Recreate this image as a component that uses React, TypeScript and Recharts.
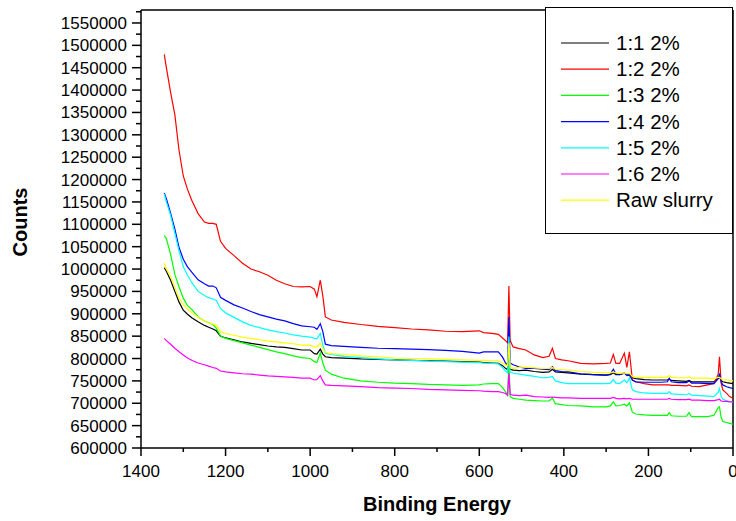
import React from 'react';
import { LineChart, Line, XAxis, YAxis, Legend, ReferenceLine } from 'recharts';

// binding energy (eV) sampled along the survey spectra
const energy = [
  1345, 1340, 1330, 1320, 1310, 1300, 1290, 1280, 1265, 1250,
  1240, 1230, 1222, 1212, 1200, 1180, 1160, 1140, 1120, 1100,
  1080, 1060, 1040, 1020, 1000, 990, 984, 976, 970, 964,
  950, 920, 880, 840, 800, 760, 720, 680, 640, 600,
  590, 570, 555, 545, 538, 533, 530, 527, 520, 505,
  490, 470, 450, 435, 427, 420, 405, 390, 360, 330,
  300, 290, 283, 277, 268, 257, 251, 245, 238, 230,
  210, 190, 170, 155, 151, 146, 130, 110, 104, 98,
  80, 60, 45, 35, 32, 28, 24, 15, 8, 0,
];

const ratio11 = [
  1003000, 995000, 975000, 950000, 926000, 908000, 899000, 891000, 882000, 874000,
  870000, 866000, 862000, 850000, 846000, 842000, 837000, 834000, 831000, 828000,
  826000, 825000, 822000, 819000, 819000, 811000, 810000, 821000, 810000, 804000,
  802000, 801000, 799000, 798000, 797000, 796000, 795000, 794000, 793000, 792000,
  791000, 790000, 789000, 784000, 778000, 775000, 812000, 776000, 774000, 773000,
  774000, 771000, 769000, 770000, 776000, 770000, 769000, 768000, 765000, 764000,
  763000, 764000, 768000, 764000, 764000, 767000, 764000, 765000, 757000, 755000,
  753000, 752000, 752000, 752000, 754000, 751000, 750000, 749000, 751000, 748000,
  748000, 748000, 748000, 756000, 759000, 750000, 748000, 746000, 745000, 744000,
];

const ratio12 = [
  1480000, 1450000, 1395000, 1345000, 1265000, 1208000, 1178000, 1154000, 1124000, 1105000,
  1102000, 1102000, 1100000, 1062000, 1046000, 1030000, 1013000, 1000000, 994000, 986000,
  975000, 967000, 961000, 960000, 961000, 955000, 938000, 975000, 940000, 893000,
  886000, 881000, 876000, 872000, 869000, 866000, 864000, 861000, 860000, 862000,
  858000, 856000, 854000, 846000, 840000, 835000, 962000, 840000, 826000, 822000,
  819000, 808000, 802000, 805000, 823000, 800000, 797000, 795000, 789000, 788000,
  789000, 790000, 809000, 789000, 789000, 812000, 780000, 815000, 752000, 748000,
  744000, 741000, 741000, 741000, 741000, 740000, 740000, 739000, 741000, 738000,
  737000, 741000, 744000, 765000, 804000, 745000, 730000, 722000, 715000, 711000,
];

const ratio13 = [
  1075000, 1068000, 1033000, 988000, 960000, 935000, 918000, 910000, 893000, 884000,
  880000, 876000, 868000, 850000, 845000, 840000, 835000, 830000, 825000, 820000,
  815000, 811000, 806000, 802000, 800000, 793000, 791000, 812000, 790000, 774000,
  765000, 756000, 750000, 747000, 745000, 744000, 742000, 741000, 740000, 741000,
  743000, 744000, 744000, 735000, 726000, 718000, 790000, 715000, 711000, 709000,
  707000, 706000, 705000, 705000, 712000, 699000, 697000, 695000, 694000, 692000,
  692000, 694000, 703000, 694000, 695000, 698000, 694000, 701000, 680000, 676000,
  674000, 673000, 673000, 673000, 679000, 672000, 671000, 671000, 679000, 670000,
  670000, 670000, 673000, 690000, 692000, 668000, 659000, 657000, 655000, 653000,
];

const ratio14 = [
  1170000, 1157000, 1125000, 1090000, 1048000, 1022000, 1005000, 993000, 976000, 967000,
  962000, 962000, 958000, 937000, 930000, 920000, 913000, 905000, 898000, 893000,
  888000, 884000, 878000, 873000, 871000, 870000, 865000, 878000, 860000, 832000,
  829000, 827000, 825000, 823000, 822000, 821000, 820000, 818000, 816000, 812000,
  815000, 815000, 815000, 803000, 790000, 785000, 893000, 790000, 786000, 781000,
  778000, 778000, 776000, 775000, 782000, 773000, 771000, 770000, 766000, 764000,
  763000, 765000, 776000, 766000, 764000, 768000, 762000, 763000, 752000, 748000,
  747000, 747000, 747000, 748000, 756000, 748000, 746000, 746000, 750000, 745000,
  745000, 744000, 744000, 755000, 767000, 748000, 741000, 737000, 735000, 733000,
];

const ratio15 = [
  1168000, 1150000, 1120000, 1080000, 1040000, 1005000, 986000, 970000, 950000, 941000,
  936000, 933000, 930000, 912000, 902000, 892000, 882000, 874000, 869000, 864000,
  860000, 857000, 853000, 850000, 848000, 845000, 844000, 856000, 830000, 812000,
  809000, 805000, 802000, 799000, 797000, 796000, 794000, 793000, 792000, 791000,
  790000, 789000, 788000, 780000, 772000, 768000, 849000, 770000, 767000, 765000,
  763000, 760000, 757000, 758000, 760000, 750000, 746000, 744000, 744000, 744000,
  744000, 745000, 753000, 745000, 744000, 752000, 746000, 756000, 730000, 726000,
  723000, 722000, 722000, 722000, 726000, 721000, 720000, 719000, 722000, 718000,
  717000, 716000, 715000, 725000, 733000, 715000, 709000, 706000, 704000, 703000,
];

const ratio16 = [
  845000, 840000, 832000, 823000, 815000, 808000, 801000, 796000, 790000, 786000,
  783000, 780000, 778000, 772000, 770000, 768000, 766000, 765000, 763000, 761000,
  760000, 759000, 758000, 756000, 756000, 752000, 753000, 762000, 750000, 741000,
  740000, 739000, 737000, 735000, 734000, 733000, 731000, 730000, 729000, 728000,
  727000, 726000, 726000, 724000, 722000, 718000, 767000, 720000, 718000, 717000,
  718000, 715000, 714000, 713000, 714000, 713000, 712000, 712000, 711000, 711000,
  711000, 711000, 713000, 711000, 710000, 711000, 710000, 711000, 709000, 709000,
  709000, 709000, 709000, 709000, 711000, 709000, 708000, 708000, 709000, 707000,
  707000, 706000, 706000, 708000, 709000, 705000, 704000, 704000, 703000, 703000,
];

const rawSlurry = [
  1013000, 1000000, 983000, 960000, 935000, 920000, 911000, 902000, 892000, 884000,
  880000, 877000, 875000, 860000, 856000, 852000, 848000, 845000, 842000, 839000,
  837000, 835000, 833000, 830000, 830000, 826000, 826000, 834000, 822000, 813000,
  811000, 809000, 806000, 804000, 801000, 800000, 799000, 798000, 797000, 796000,
  796000, 795000, 795000, 790000, 786000, 784000, 834000, 780000, 778000, 780000,
  781000, 779000, 778000, 778000, 780000, 776000, 775000, 774000, 771000, 769000,
  768000, 768000, 770000, 768000, 767000, 768000, 766000, 767000, 760000, 758000,
  758000, 758000, 758000, 758000, 762000, 758000, 757000, 757000, 759000, 756000,
  756000, 756000, 755000, 758000, 758000, 755000, 753000, 752000, 751000, 750000,
];

const xTicks = [0, 100, 200, 300, 400, 500, 600, 700, 800, 900, 1000, 1100, 1200, 1300, 1400];
const yTicks = [
  600000, 625000, 650000, 675000, 700000, 725000, 750000, 775000, 800000, 825000,
  850000, 875000, 900000, 925000, 950000, 975000, 1000000, 1025000, 1050000, 1075000,
  1100000, 1125000, 1150000, 1175000, 1200000, 1225000, 1250000, 1275000, 1300000,
  1325000, 1350000, 1375000, 1400000, 1425000, 1450000, 1475000, 1500000, 1525000,
  1550000, 1575000,
];

const series = [
  { key: 'r11', name: '1:1 2%', values: ratio11, color: '#000000' },
  { key: 'r12', name: '1:2 2%', values: ratio12, color: '#ff0000' },
  { key: 'r13', name: '1:3 2%', values: ratio13, color: '#00ff00' },
  { key: 'r14', name: '1:4 2%', values: ratio14, color: '#0000ff' },
  { key: 'r15', name: '1:5 2%', values: ratio15, color: '#00ffff' },
  { key: 'r16', name: '1:6 2%', values: ratio16, color: '#ff00ff' },
  { key: 'raw', name: 'Raw slurry', values: rawSlurry, color: '#ffff00' },
];

const rows = energy.map((e, i) => {
  const row: Record<string, number> = { e };
  series.forEach((s) => {
    row[s.key] = s.values[i];
  });
  return row;
});

const FONT = '"Liberation Sans", Arial, sans-serif';
const Y_MAX = 1579000;

function XTick({ x, y, payload }: any) {
  const major = payload.value % 200 === 0;
  return (
    <g>
      <line x1={x} y1={y} x2={x} y2={y + (major ? 8 : 4)} stroke="#000" strokeWidth={1.5} />
      {major && (
        <text x={x} y={y + 29} textAnchor="middle" fontSize={17} fontFamily={FONT} fill="#000">
          {payload.value}
        </text>
      )}
    </g>
  );
}

function YTick({ x, y, payload }: any) {
  const major = payload.value % 50000 === 0;
  return (
    <g>
      <line x1={x - (major ? 9 : 5)} y1={y} x2={x} y2={y} stroke="#000" strokeWidth={1.5} />
      {major && (
        <text x={x - 14} y={y + 6} textAnchor="end" fontSize={17} fontFamily={FONT} fill="#000">
          {payload.value}
        </text>
      )}
    </g>
  );
}

function LegendBox() {
  return (
    <svg width={188} height={227} style={{ display: 'block' }}>
      <rect x={0.5} y={0.5} width={187} height={226} fill="#fff" stroke="#000" strokeWidth={1} />
      {series.map((s, i) => {
        const cy = 36 + i * 26.2;
        return (
          <g key={s.key}>
            <line x1={16} y1={cy} x2={64} y2={cy} stroke={s.color} strokeWidth={1.2} />
            <text x={71} y={cy + 7} fontSize={20.5} fontFamily={FONT} fill="#000">
              {s.name}
            </text>
          </g>
        );
      })}
    </svg>
  );
}

export default function App() {
  return (
    <div style={{ position: 'absolute', left: 0, top: 0, background: '#fff' }}>
      <LineChart width={736} height={521} data={rows} margin={{ top: 10, right: 3, left: 0, bottom: 0 }}>
        <XAxis
          dataKey="e"
          type="number"
          domain={[0, 1400]}
          reversed
          ticks={xTicks}
          interval={0}
          tickSize={0}
          tickMargin={0}
          tickLine={false}
          tick={<XTick />}
          height={73}
          axisLine={{ stroke: '#000', strokeWidth: 1.5 }}
          label={{
            content: () => (
              <text x={437} y={511} textAnchor="middle" fontSize={20} fontWeight="bold" fontFamily={FONT} fill="#000">
                Binding Energy
              </text>
            ),
          }}
        />
        <YAxis
          type="number"
          domain={[600000, Y_MAX]}
          ticks={yTicks}
          interval={0}
          tickSize={0}
          tickMargin={0}
          tickLine={false}
          tick={<YTick />}
          width={141}
          allowDataOverflow
          axisLine={{ stroke: '#000', strokeWidth: 1.5 }}
          label={{
            content: () => (
              <text
                x={27}
                y={222}
                transform="rotate(-90 27 222)"
                textAnchor="middle"
                fontSize={20}
                fontWeight="bold"
                fontFamily={FONT}
                fill="#000"
              >
                Counts
              </text>
            ),
          }}
        />
        <ReferenceLine y={Y_MAX} stroke="#000" strokeWidth={1.5} />
        <ReferenceLine x={0} stroke="#000" strokeWidth={1.5} />
        {series.map((s) => (
          <Line
            key={s.key}
            dataKey={s.key}
            name={s.name}
            type="linear"
            stroke={s.color}
            strokeWidth={1.2}
            dot={false}
            isAnimationActive={false}
          />
        ))}
        <Legend
          layout="horizontal"
          align="center"
          verticalAlign="middle"
          content={() => <LegendBox />}
          wrapperStyle={{ position: 'absolute', left: 545, top: 7, width: 188, height: 227 }}
        />
      </LineChart>
    </div>
  );
}
